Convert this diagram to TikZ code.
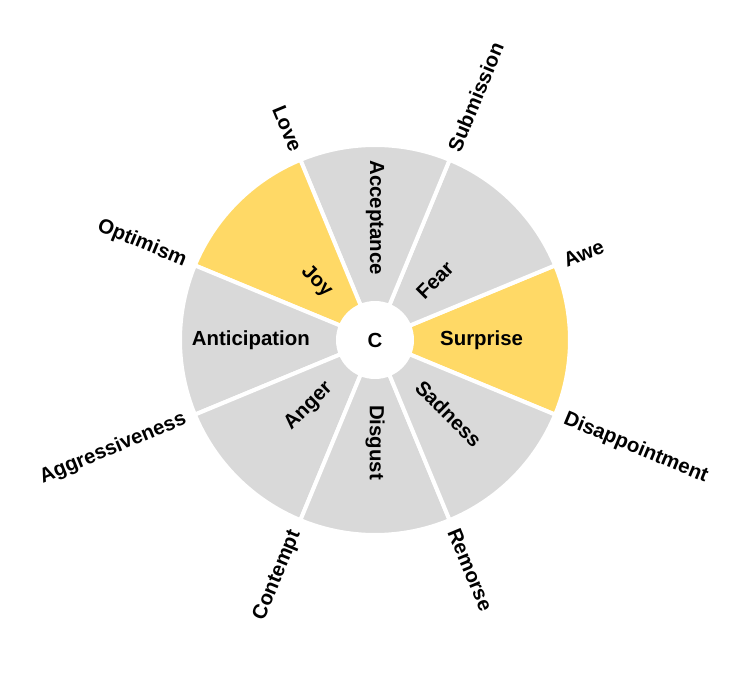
\documentclass[tikz,border=0pt]{standalone}
\usepackage{fontspec}
\setmainfont{Liberation Sans}
\usepackage{tikz}
\definecolor{Mist}{HTML}{D9D9D9}
\definecolor{Sun}{HTML}{FFD966}
\newcommand{\emofont}{\fontsize{20.4}{23}\selectfont\bfseries}
\tikzset{
  petal/.style={draw=white, line width=4pt, fill=Mist},
  hotpetal/.style={petal, fill=Sun},
  hub/.style={circle, fill=white, minimum size=78pt, inner sep=0pt, font=\emofont},
  emoout/.style={anchor=west, inner sep=0pt, font=\emofont},
  emoin/.style={anchor=east, inner sep=0pt, font=\emofont}
}

\begin{document}
\begin{tikzpicture}
  \useasboundingbox (-375pt,-340pt) rectangle (373pt,340pt);

  % the eight petals, one per basic emotion
  \path[hotpetal] (0,0) -- (-22.5:195pt) arc[start angle=-22.5, end angle=22.5, radius=195pt] -- cycle;
  \path[petal] (0,0) -- (22.5:195pt) arc[start angle=22.5, end angle=67.5, radius=195pt] -- cycle;
  \path[petal] (0,0) -- (67.5:195pt) arc[start angle=67.5, end angle=112.5, radius=195pt] -- cycle;
  \path[hotpetal] (0,0) -- (112.5:195pt) arc[start angle=112.5, end angle=157.5, radius=195pt] -- cycle;
  \path[petal] (0,0) -- (157.5:195pt) arc[start angle=157.5, end angle=202.5, radius=195pt] -- cycle;
  \path[petal] (0,0) -- (202.5:195pt) arc[start angle=202.5, end angle=247.5, radius=195pt] -- cycle;
  \path[petal] (0,0) -- (247.5:195pt) arc[start angle=247.5, end angle=292.5, radius=195pt] -- cycle;
  \path[petal] (0,0) -- (292.5:195pt) arc[start angle=292.5, end angle=337.5, radius=195pt] -- cycle;

  \node[hub] (hub) at (0,0) {C};

  \node[emoout] (surprise) at (0:65pt) {Surprise};
  \node[emoout, rotate=45] (fear) at (45:63pt) {Fear};
  \node[emoin, rotate=-90] (acceptance) at (90:65pt) {Acceptance};
  \node[emoin, rotate=-45] (joy) at (135:65pt) {Joy};
  \node[emoin] (anticipation) at (180:65pt) {Anticipation};
  \node[emoin, rotate=45] (anger) at (225:64pt) {Anger};
  \node[emoout, rotate=-90] (disgust) at (270:65pt) {Disgust};
  \node[emoout, rotate=-45] (sadness) at (315:62pt) {Sadness};

  % dyads sit on the borders between petals
  \node[emoout, rotate=22.5] (awe) at (22.5:205pt) {Awe};
  \node[emoout, rotate=67.5] (submission) at (67.5:205pt) {Submission};
  \node[emoin, rotate=-67.5] (love) at (112.5:205pt) {Love};
  \node[emoin, rotate=-22.5] (optimism) at (157.5:205pt) {Optimism};
  \node[emoin, rotate=22.5] (aggressiveness) at (202.5:205pt) {Aggressiveness};
  \node[emoin, rotate=67.5] (contempt) at (247.5:207pt) {Contempt};
  \node[emoout, rotate=-67.5] (remorse) at (292.5:205pt) {Remorse};
  \node[emoout, rotate=-22.5] (disappointment) at (337.5:205pt) {Disappointment};
\end{tikzpicture}
\end{document}
